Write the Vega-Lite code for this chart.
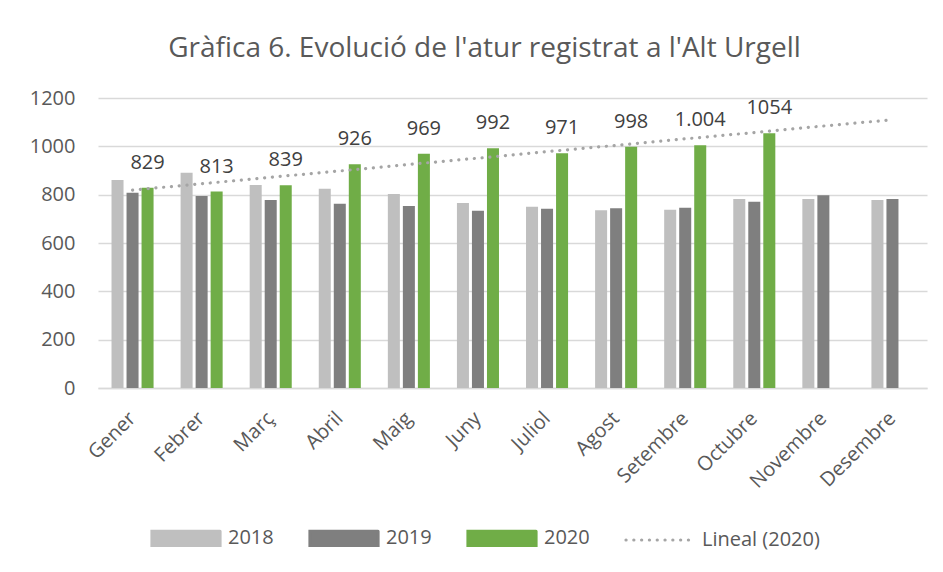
{
  "$schema": "https://vega.github.io/schema/vega-lite/v6.json",
  "width": 829,
  "height": 290,
  "autosize": {"type": "none"},
  "padding": {"left": 98, "top": 98, "right": 16, "bottom": 184},
  "background": "white",
  "title": {
    "text": "Gràfica 6. Evolució de l'atur registrat a l'Alt Urgell",
    "font": "Open Sans",
    "fontSize": 28,
    "fontWeight": "normal",
    "color": "#595959",
    "offset": 25,
    "anchor": "middle",
    "dx": -28
  },
  "config": {
    "font": "Open Sans",
    "view": {"stroke": null},
    "axis": {"labelFont": "Open Sans", "labelFontSize": 20, "labelColor": "#595959", "title": null}
  },
  "data": {
    "values": [
      {"mes": "Gener", "serie": "2018", "valor": 861},
      {"mes": "Gener", "serie": "2019", "valor": 808},
      {"mes": "Gener", "serie": "2020", "valor": 829, "etiqueta": "829"},
      {"mes": "Febrer", "serie": "2018", "valor": 891},
      {"mes": "Febrer", "serie": "2019", "valor": 795},
      {"mes": "Febrer", "serie": "2020", "valor": 813, "etiqueta": "813"},
      {"mes": "Març", "serie": "2018", "valor": 840},
      {"mes": "Març", "serie": "2019", "valor": 778},
      {"mes": "Març", "serie": "2020", "valor": 839, "etiqueta": "839"},
      {"mes": "Abril", "serie": "2018", "valor": 824},
      {"mes": "Abril", "serie": "2019", "valor": 762},
      {"mes": "Abril", "serie": "2020", "valor": 926, "etiqueta": "926"},
      {"mes": "Maig", "serie": "2018", "valor": 803},
      {"mes": "Maig", "serie": "2019", "valor": 753},
      {"mes": "Maig", "serie": "2020", "valor": 969, "etiqueta": "969"},
      {"mes": "Juny", "serie": "2018", "valor": 766},
      {"mes": "Juny", "serie": "2019", "valor": 733},
      {"mes": "Juny", "serie": "2020", "valor": 992, "etiqueta": "992"},
      {"mes": "Juliol", "serie": "2018", "valor": 750},
      {"mes": "Juliol", "serie": "2019", "valor": 742},
      {"mes": "Juliol", "serie": "2020", "valor": 971, "etiqueta": "971"},
      {"mes": "Agost", "serie": "2018", "valor": 736},
      {"mes": "Agost", "serie": "2019", "valor": 744},
      {"mes": "Agost", "serie": "2020", "valor": 998, "etiqueta": "998"},
      {"mes": "Setembre", "serie": "2018", "valor": 738},
      {"mes": "Setembre", "serie": "2019", "valor": 746},
      {"mes": "Setembre", "serie": "2020", "valor": 1004, "etiqueta": "1.004"},
      {"mes": "Octubre", "serie": "2018", "valor": 782},
      {"mes": "Octubre", "serie": "2019", "valor": 771},
      {"mes": "Octubre", "serie": "2020", "valor": 1054, "etiqueta": "1054"},
      {"mes": "Novembre", "serie": "2018", "valor": 782},
      {"mes": "Novembre", "serie": "2019", "valor": 798},
      {"mes": "Desembre", "serie": "2018", "valor": 778},
      {"mes": "Desembre", "serie": "2019", "valor": 782},
      {"mes": "Gener", "serie": "Lineal (2020)", "valor": 819},
      {"mes": "Febrer", "serie": "Lineal (2020)", "valor": 845},
      {"mes": "Març", "serie": "Lineal (2020)", "valor": 872},
      {"mes": "Abril", "serie": "Lineal (2020)", "valor": 898},
      {"mes": "Maig", "serie": "Lineal (2020)", "valor": 925},
      {"mes": "Juny", "serie": "Lineal (2020)", "valor": 951},
      {"mes": "Juliol", "serie": "Lineal (2020)", "valor": 978},
      {"mes": "Agost", "serie": "Lineal (2020)", "valor": 1004},
      {"mes": "Setembre", "serie": "Lineal (2020)", "valor": 1031},
      {"mes": "Octubre", "serie": "Lineal (2020)", "valor": 1057},
      {"mes": "Novembre", "serie": "Lineal (2020)", "valor": 1084},
      {"mes": "Desembre", "serie": "Lineal (2020)", "valor": 1110}
    ]
  },
  "encoding": {
    "x": {
      "field": "mes",
      "type": "nominal",
      "sort": ["Gener", "Febrer", "Març", "Abril", "Maig", "Juny", "Juliol", "Agost", "Setembre", "Octubre", "Novembre", "Desembre"],
      "scale": {"paddingInner": 0, "paddingOuter": 0},
      "axis": {
        "labelAngle": -45,
        "labelAlign": "right",
        "labelBaseline": "middle",
        "labelPadding": 27,
        "ticks": false,
        "tickSize": 0,
        "domainColor": "#D9D9D9",
        "domainWidth": 1.5,
        "grid": false
      }
    },
    "y": {
      "field": "valor",
      "type": "quantitative",
      "scale": {"domain": [0, 1200], "nice": false},
      "axis": {
        "values": [0, 200, 400, 600, 800, 1000, 1200],
        "format": "d",
        "domain": false,
        "ticks": false,
        "tickSize": 0,
        "labelPadding": 23,
        "gridColor": "#D9D9D9",
        "gridWidth": 1.5
      }
    },
    "color": {
      "field": "serie",
      "type": "nominal",
      "scale": {
        "domain": ["2018", "2019", "2020", "Lineal (2020)"],
        "range": ["#BFBFBF", "#7F7F7F", "#70AD47", "#A5A5A5"]
      },
      "legend": {
        "title": null,
        "orient": "none",
        "legendX": 52,
        "legendY": 404,
        "direction": "horizontal",
        "labelFont": "Open Sans",
        "labelFontSize": 20,
        "labelColor": "#595959",
        "labelOffset": 6,
        "columnPadding": 29,
        "symbolSize": 4624,
        "symbolStrokeWidth": 3.2,
        "symbolType": "M-1,-0.206H1V0.206H-1Z",
        "encode": {
          "symbols": {
            "update": {
              "size": {"value": 4624},
              "strokeWidth": {"value": 3.2},
              "shape": {"signal": "datum.value === 'Lineal (2020)' ? 'M-1,0H1' : 'M-1,-0.206H1V0.206H-1Z'"},
              "fill": {"signal": "datum.value === 'Lineal (2020)' ? 'transparent' : scale('color', datum.value)"},
              "stroke": {"signal": "datum.value === 'Lineal (2020)' ? '#A5A5A5' : 'transparent'"},
              "strokeDash": {"signal": "datum.value === 'Lineal (2020)' ? [0.1, 7.7] : [1, 0]"},
              "strokeCap": {"value": "round"},
              "opacity": {"value": 1}
            }
          }
        }
      }
    }
  },
  "layer": [
    {
      "transform": [{"filter": "datum.serie !== 'Lineal (2020)'"}],
      "mark": {"type": "bar"},
      "encoding": {
        "xOffset": {
          "field": "serie",
          "type": "nominal",
          "scale": {"domain": ["2018", "2019", "2020"], "paddingInner": 0.2, "paddingOuter": 0.9}
        }
      }
    },
    {
      "transform": [{"filter": "datum.serie === 'Lineal (2020)'"}],
      "mark": {"type": "line", "strokeDash": [0.1, 7.7], "strokeCap": "round", "strokeWidth": 3.2},
      "encoding": {}
    },
    {
      "transform": [{"filter": "datum.serie === '2020'"}],
      "mark": {"type": "text", "baseline": "alphabetic", "dy": -19, "fontSize": 20, "font": "Open Sans", "color": "#404040"},
      "encoding": {
        "xOffset": {
          "field": "serie",
          "type": "nominal",
          "scale": {"domain": ["2018", "2019", "2020"], "paddingInner": 0.2, "paddingOuter": 0.9}
        },
        "text": {"field": "etiqueta"},
        "color": {"value": "#404040"}
      }
    }
  ]
}
